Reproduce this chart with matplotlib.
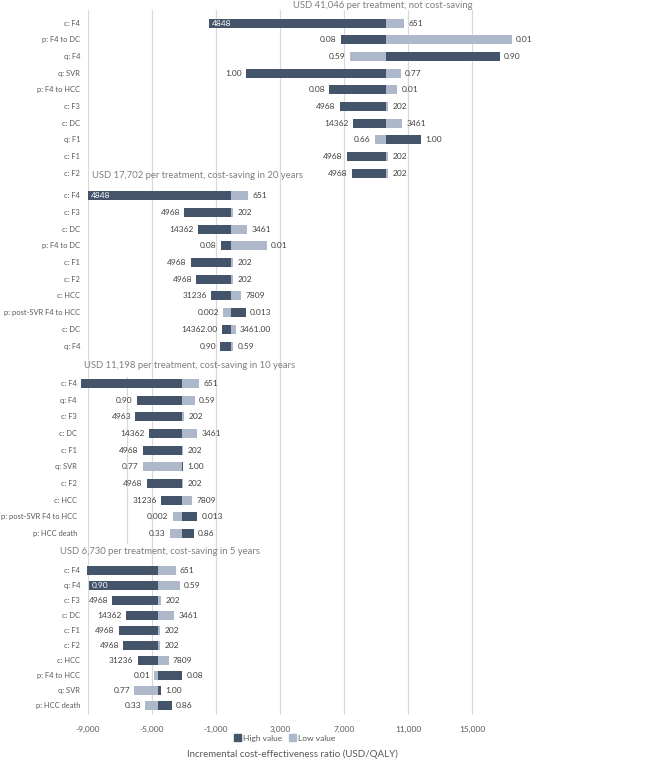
import numpy as np
import matplotlib.pyplot as plt
from matplotlib.patches import Patch
from matplotlib.transforms import blended_transform_factory

plt.rcParams['font.family'] = ['Lato', 'DejaVu Sans']

# ---------------- data ----------------
titles = ['USD 41,046 per treatment, not cost-saving',
          'USD 17,702 per treatment, cost-saving in 20 years',
          'USD 11,198 per treatment, cost-saving in 10 years',
          'USD 6,730 per treatment, cost-saving in 5 years']

# base-case ICER of each panel
base = [9625, -60, -3146, -4625]

p1_params = ['c: F4', 'p: F4 to DC', 'q: F4', 'q: SVR', 'p: F4 to HCC',
             'c: F3', 'c: DC', 'q: F1', 'c: F1', 'c: F2']
p1_high = [-1438, 6794, 16750, 875, 6081, 6750, 7581, 11794, 7169, 7481]
p1_low = [10750, 17481, 7375, 10544, 10331, 9769, 10644, 8938, 9769, 9769]
p1_high_txt = ['4848', '0.08', '0.90', '1.00', '0.08', '4968', '14362', '1.00', '4968', '4968']
p1_low_txt = ['651', '0.01', '0.59', '0.77', '0.01', '202', '3461', '0.66', '202', '202']

p2_params = ['c: F4', 'c: F3', 'c: DC', 'p: F4 to DC', 'c: F1', 'c: F2',
             'c: HCC', 'p: post-SVR F4 to HCC', 'c: DC', 'q: F4']
p2_high = [-9000, -2981, -2106, -688, -2562, -2231, -1331, 856, -644, -731]
p2_low = [1019, 81, 938, 2188, 81, 81, 581, -562, 231, 81]
p2_high_txt = ['4848', '4968', '14362', '0.08', '4968', '4968', '31236', '0.013', '14362.00', '0.90']
p2_low_txt = ['651', '202', '3461', '0.01', '202', '202', '7809', '0.002', '3461.00', '0.59']

p3_params = ['c: F4', 'q: F4', 'c: F3', 'c: DC', 'c: F1', 'q: SVR', 'c: F2',
             'c: HCC', 'p: post-SVR F4 to HCC', 'p: HCC death']
p3_high = [-9437, -5958, -6042, -5188, -5583, -3083, -5333, -4438, -2167, -2375]
p3_low = [-2042, -2312, -2979, -2167, -3042, -5583, -3042, -2500, -3708, -3875]
p3_high_txt = ['4848', '0.90', '4963', '14362', '4968', '1.00', '4968', '31236', '0.013', '0.86']
p3_low_txt = ['651', '0.59', '202', '3461', '202', '0.77', '202', '7809', '0.002', '0.33']

p4_params = ['c: F4', 'q: F4', 'c: F3', 'c: DC', 'c: F1', 'c: F2', 'c: HCC',
             'p: F4 to HCC', 'q: SVR', 'p: HCC death']
p4_high = [-9042, -8938, -7479, -6646, -7062, -6792, -5896, -3104, -4458, -3750]
p4_low = [-3521, -3271, -4438, -3625, -4500, -4500, -3958, -4854, -6104, -5417]
p4_high_txt = ['4848', '0.90', '4968', '14362', '4968', '4968', '31236', '0.08', '1.00', '0.86']
p4_low_txt = ['651', '0.59', '202', '3461', '202', '202', '7809', '0.01', '0.77', '0.33']

ticks = [-9000, -5000, -1000, 3000, 7000, 11000, 15000]

# ---------------- layout (figure pixels) ----------------
W, H = 658, 761
row_start = [23, 195.7, 383.3, 570.7]
row_step = [16.7, 16.7, 16.7, 15.0]
bar_h = [9, 9, 9, 8.5]
label_x = [80, 80, 77, 80]
title_pos = [(383, 6, 'center'), (92, 176, 'left'), (84, 365, 'left'), (60, 551.5, 'left')]

dark = '#44546a'
light = '#adb9ca'
txt = '#404040'
gray = '#7f7f7f'
fs = 6

fig = plt.figure(figsize=(W / 100, H / 100), dpi=100)
x0, x1 = 88, 520
y0, y1 = 10, 715
ax = fig.add_axes([x0 / W, 1 - y1 / H, (x1 - x0) / W, (y1 - y0) / H])
ax.set_xlim(-9000, 18000)
ax.set_ylim(y1, y0)
for s in ax.spines.values():
    s.set_visible(False)
ax.set_xticks(ticks)
ax.set_xticklabels([f'{t:,}' for t in ticks], color='#595959', fontsize=6)
ax.tick_params(axis='x', length=0, pad=8)
ax.set_yticks([])
for t in ticks:
    ax.axvline(t, color='#d9d9d9', lw=0.9, zorder=0)
# stray gridline from the pasted 10-year chart
ax.plot([-6562, -6562], [377, 543], color='#d9d9d9', lw=0.9, zorder=0.5)

lab_tr = blended_transform_factory(fig.transFigure, ax.transData)
panels = [(p1_params, p1_high, p1_low, p1_high_txt, p1_low_txt),
          (p2_params, p2_high, p2_low, p2_high_txt, p2_low_txt),
          (p3_params, p3_high, p3_low, p3_high_txt, p3_low_txt),
          (p4_params, p4_high, p4_low, p4_high_txt, p4_low_txt)]

for k, (params, hi, lo, hi_t, lo_t) in enumerate(panels):
    b = base[k]
    ys = row_start[k] + row_step[k] * np.arange(len(params))
    hi = np.array(hi)
    lo = np.array(lo)
    ax.barh(ys, lo - b, left=b, height=bar_h[k], color=light, zorder=2, clip_on=False)
    ax.barh(ys, hi - b, left=b, height=bar_h[k], color=dark, zorder=3, clip_on=False)
    for y, name in zip(ys, params):
        ax.text(label_x[k] / W, y, name, transform=lab_tr, ha='right', va='center',
                fontsize=5.4, color='#595959')
    for y, h, l, ht, lt in zip(ys, hi, lo, hi_t, lo_t):
        for v, s, c in ((h, ht, dark), (l, lt, light)):
            if v < b:
                inside = c == dark and (v < -8500 or b - v > 10000)
                if inside:
                    ax.annotate(s, (v, y), xytext=(2, 0), textcoords='offset points',
                                ha='left', va='center', fontsize=fs, color='white', zorder=5)
                else:
                    ax.annotate(s, (v, y), xytext=(-3, 0), textcoords='offset points',
                                ha='right', va='center', fontsize=fs, color=txt, zorder=5)
            else:
                ax.annotate(s, (v, y), xytext=(3, 0), textcoords='offset points',
                            ha='left', va='center', fontsize=fs, color=txt, zorder=5)
    tx, ty, ha = title_pos[k]
    fig.text(tx / W, 1 - ty / H, titles[k], ha=ha, va='center', fontsize=6.8, color=gray)

handles = [Patch(color=dark, label='High value'), Patch(color=light, label='Low value')]
fig.legend(handles=handles, loc='center', bbox_to_anchor=(285 / W, 1 - 738 / H), ncol=2,
           frameon=False, fontsize=6, handlelength=0.8, handleheight=0.8,
           handletextpad=0.3, columnspacing=0.8, labelcolor='#595959',
           borderpad=0.1)
fig.text(292 / W, 1 - 754 / H, 'Incremental cost-effectiveness ratio (USD/QALY)',
         ha='center', va='center', fontsize=7, color='#595959')

fig.savefig('out.png', dpi=100)
